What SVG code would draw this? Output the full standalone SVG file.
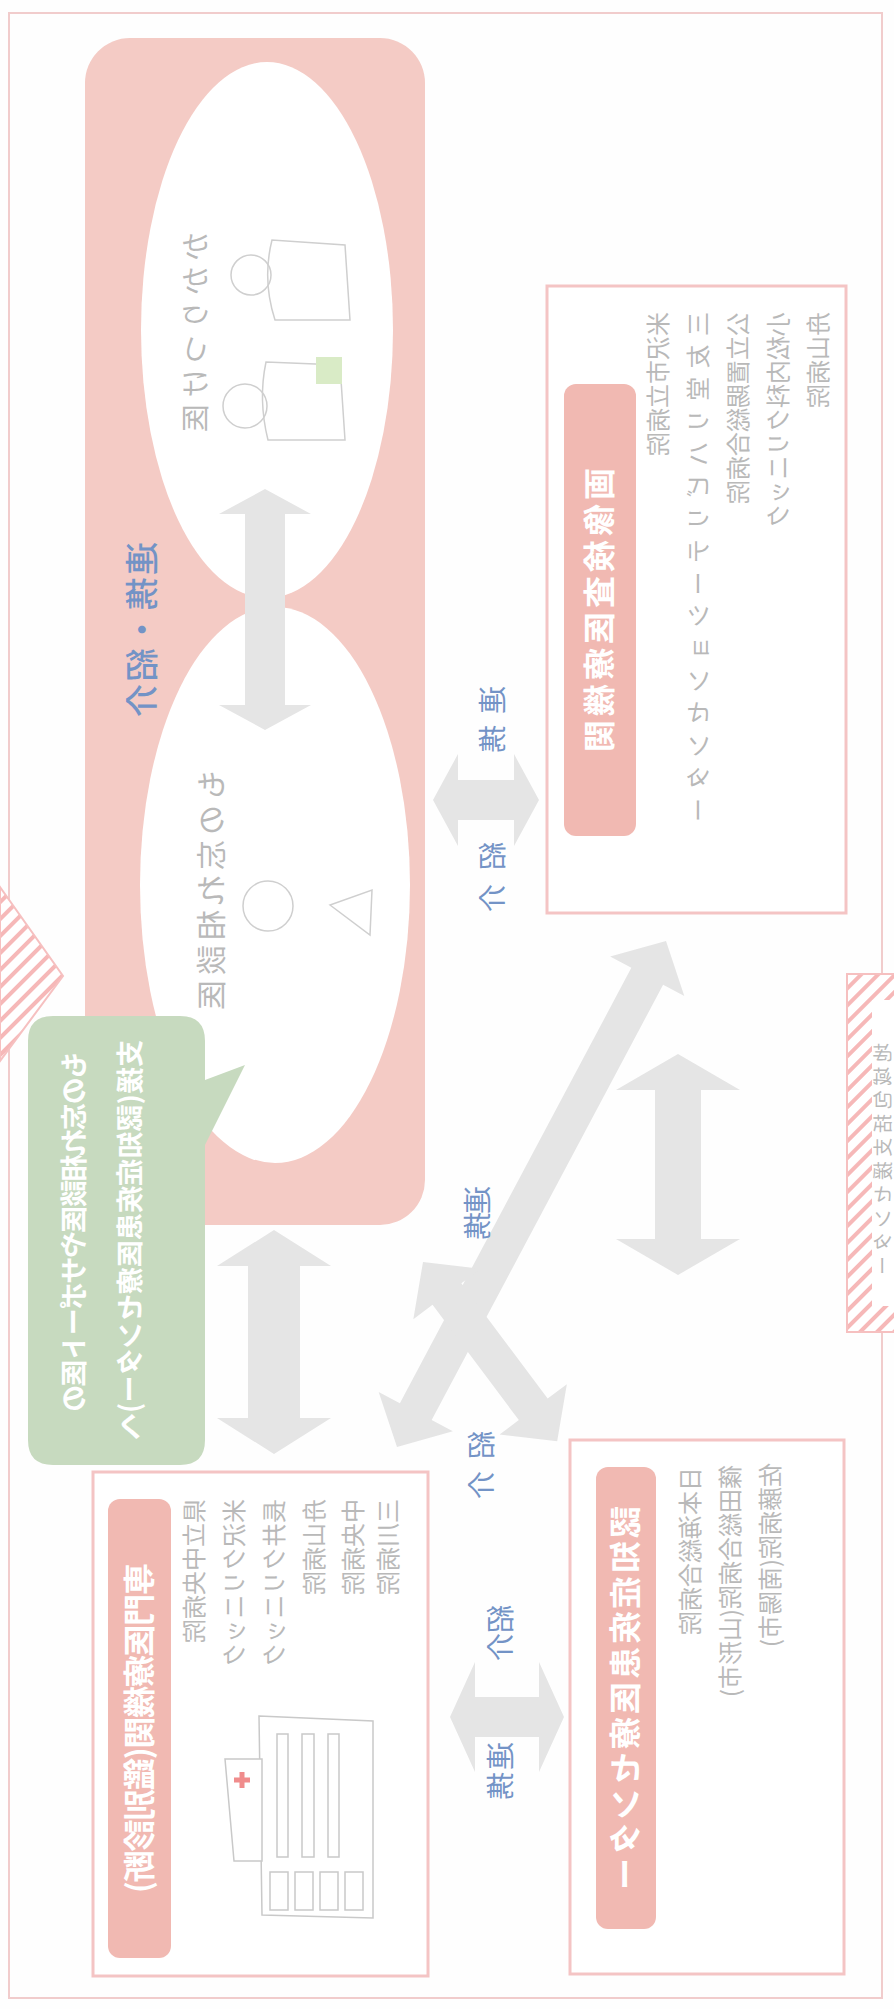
<svg xmlns="http://www.w3.org/2000/svg" width="894" height="2009" viewBox="0 0 894 2009">
<defs>
<style>
text{font-family:"Noto Sans CJK JP","Noto Sans CJK SC",sans-serif}
.lbl{font-weight:700;fill:#ffffff;font-size:32px}
.ln{fill:#b9b9b9;font-size:24px}
.blue{fill:#7393c6;font-size:28px}
.arr{fill:#e5e5e5}
.box{fill:#ffffff;stroke:#f4c4c4;stroke-width:3}
.tag{fill:#f1b9b2}
.ill{fill:none;stroke:#cfcfcf;stroke-width:1.5}
</style>
<pattern id="hatch" patternUnits="userSpaceOnUse" width="12" height="12" patternTransform="rotate(45)">
<rect width="12" height="12" fill="#ffffff"/>
<rect width="4" height="12" fill="#f6b8b8"/>
</pattern>
</defs>
<rect width="894" height="2009" fill="#fefefe"/>
<!-- the whole chart is laid out landscape and transposed onto the page -->
<g transform="matrix(0,1,1,0,0,0)">
<rect x="13" y="9" width="1985" height="873" fill="none" stroke="#f1cccc" stroke-width="2"/>
<!-- edge fragments -->
<g id="edge-left">
<polygon points="887,0 976,63 1061,0" fill="url(#hatch)" stroke="#f6c0c0" stroke-width="2"/>
</g>
<g id="edge-right">
<rect x="974" y="847" width="358" height="60" fill="url(#hatch)" stroke="#f6c0c0" stroke-width="2"/>
<rect x="1000" y="872" width="306" height="40" fill="#ffffff"/>
<text x="1043" y="890" class="ln" style="font-size:19px" textLength="232" lengthAdjust="spacing">地域包括支援センター</text>
</g>
<!-- primary care group -->
<g id="primary">
<rect x="38" y="85" width="1187" height="340" rx="45" fill="#f4cbc5"/>
<ellipse cx="330" cy="267" rx="268" ry="126" fill="#ffffff"/>
<ellipse cx="885" cy="275" rx="278" ry="135" fill="#ffffff"/>
<text x="542" y="154" class="blue" style="font-size:33px;font-weight:500" textLength="175" lengthAdjust="spacing">連携・紹介</text>
<text x="232" y="206" class="ln" style="font-size:28px" textLength="200" lengthAdjust="spacing">かかりつけ医</text>
<text x="770" y="222" class="ln" style="font-size:30px" textLength="240" lengthAdjust="spacing">もの忘れ相談医</text>
<!-- doctor and patient -->
<circle cx="275" cy="251" r="20" fill="#fbefe8" class="ill"/>
<path d="M240,272 Q280,262 320,275 L320,350 L245,345 Z" class="ill"/>
<circle cx="406" cy="245" r="22" fill="#fbefe8" class="ill"/>
<path d="M362,266 Q400,258 440,268 L440,345 L365,340 Z" class="ill"/>
<rect x="357" y="316" width="27" height="26" fill="#d9ebc6"/>
<circle cx="906" cy="268" r="25" fill="#fbefe8" class="ill"/>
<path d="M905,330 L935,370 L890,372 Z" class="ill"/>
</g>
<!-- speech bubble -->
<g id="bubble">
<path d="M1041,28 L1440,28 Q1465,28 1465,53 L1465,180 Q1465,205 1440,205 L1145,205 L1065,245 L1080,205 L1041,205 Q1016,205 1016,180 L1016,53 Q1016,28 1041,28 Z" fill="#c7dabf"/>
<text x="1052" y="84" class="lbl" style="font-size:27px" textLength="360" lengthAdjust="spacing">もの忘れ相談医やサポート医の</text>
<text x="1040" y="140" class="lbl" style="font-size:27px" textLength="400" lengthAdjust="spacing">支援(認知症疾患医療センター)へ</text>
</g>
<!-- imaging box -->
<g id="imaging">
<rect x="286" y="547" width="627" height="299" class="box"/>
<rect x="384" y="564" width="452" height="72" rx="12" class="tag"/>
<text x="610" y="611" class="lbl" text-anchor="middle" textLength="284" lengthAdjust="spacing">画像検査医療機関</text>
<text x="312" y="667" class="ln">米沢市立病院</text>
<text x="312" y="707" class="ln" textLength="510" lengthAdjust="spacing">三友堂リハビリテーションセンター</text>
<text x="312" y="747" class="ln">公立置賜総合病院</text>
<text x="312" y="787" class="ln">小松内科クリニック</text>
<text x="312" y="827" class="ln">舟山病院</text>
</g>
<!-- referral hospitals box -->
<g id="referral">
<rect x="1472" y="93" width="504" height="335" class="box"/>
<rect x="1499" y="108" width="459" height="63" rx="12" class="tag"/>
<text x="1728" y="151" class="lbl" text-anchor="middle" textLength="330" lengthAdjust="spacing">専門医療機関(鑑別診断)</text>
<text x="1499" y="203" class="ln">県立中央病院</text>
<text x="1499" y="243" class="ln">米沢クリニック</text>
<text x="1499" y="283" class="ln">長井クリニック</text>
<text x="1499" y="323" class="ln">舟山病院</text>
<text x="1499" y="362" class="ln">中央病院</text>
<text x="1499" y="397" class="ln">三川病院</text>
<!-- hospital building -->
<g fill="#ffffff" stroke="#c9c9c9" stroke-width="1.5">
<polygon points="1716,259 1721,373 1918,373 1915,262"/>
<polygon points="1759,225 1759,262 1861,262 1861,234"/>
<rect x="1734" y="277" width="123" height="11"/>
<rect x="1734" y="302" width="123" height="12"/>
<rect x="1734" y="328" width="123" height="11"/>
<rect x="1872" y="270" width="38" height="18"/>
<rect x="1872" y="295" width="38" height="18"/>
<rect x="1872" y="320" width="38" height="18"/>
<rect x="1872" y="345" width="38" height="18"/>
</g>
<path d="M1780,234 V250 M1772,242 H1788" stroke="#f08c8c" stroke-width="5"/>
</g>
<!-- dementia centre box -->
<g id="centre">
<rect x="1440" y="570" width="534" height="274" class="box"/>
<rect x="1467" y="596" width="462" height="60" rx="12" class="tag"/>
<text x="1698" y="637" class="lbl" text-anchor="middle" textLength="384" lengthAdjust="spacing">認知症疾患医療センター</text>
<text x="1467" y="699" class="ln">日本海総合病院</text>
<text x="1465" y="739" class="ln">篠田総合病院(山形市)</text>
<text x="1463" y="779" class="ln">佐藤病院(南陽市)</text>
</g>
<!-- connectors -->
<g id="connectors">
<polygon class="arr" points="489,265 514,219 514,245 705,245 705,219 730,265 705,311 705,285 514,285 514,311"/>
<polygon class="arr" points="1230,274 1266,217 1266,248 1418,248 1418,217 1454,274 1418,331 1418,300 1266,300 1266,331"/>
<polygon class="arr" points="1054,678 1090,616 1090,655 1239,655 1239,616 1275,678 1239,740 1239,701 1090,701 1090,740"/>
<polygon class="arr" points="800,433 754,458 780,458 780,514 754,514 800,539 846,514 820,514 820,458 846,458"/>
<polygon class="arr" points="1717,450 1662,475 1697,475 1697,539 1662,539 1717,564 1772,539 1737,539 1737,475 1772,475"/>
<polygon class="arr" transform="translate(941,666) rotate(-28)" points="0,0 40,-42 40,-18 533,-18 533,-42 573,0 533,42 533,18 40,18 40,42"/>
<polygon class="arr" transform="translate(1262,423) rotate(36.8)" points="0,0 40,-42 40,-18 184,-18 184,-42 224,0 184,42 184,18 40,18 40,42"/>
<text x="686" y="503" class="blue" textLength="67" lengthAdjust="spacing">連携</text>
<text x="842" y="503" class="blue" textLength="70" lengthAdjust="spacing">紹介</text>
<text x="1186" y="488" class="blue" textLength="54" lengthAdjust="spacing">連携</text>
<text x="1431" y="492" class="blue" textLength="68" lengthAdjust="spacing">紹介</text>
<text x="1605" y="511" class="blue" textLength="56" lengthAdjust="spacing">紹介</text>
<text x="1742" y="511" class="blue" textLength="58" lengthAdjust="spacing">連携</text>
</g>
</g>
</svg>
